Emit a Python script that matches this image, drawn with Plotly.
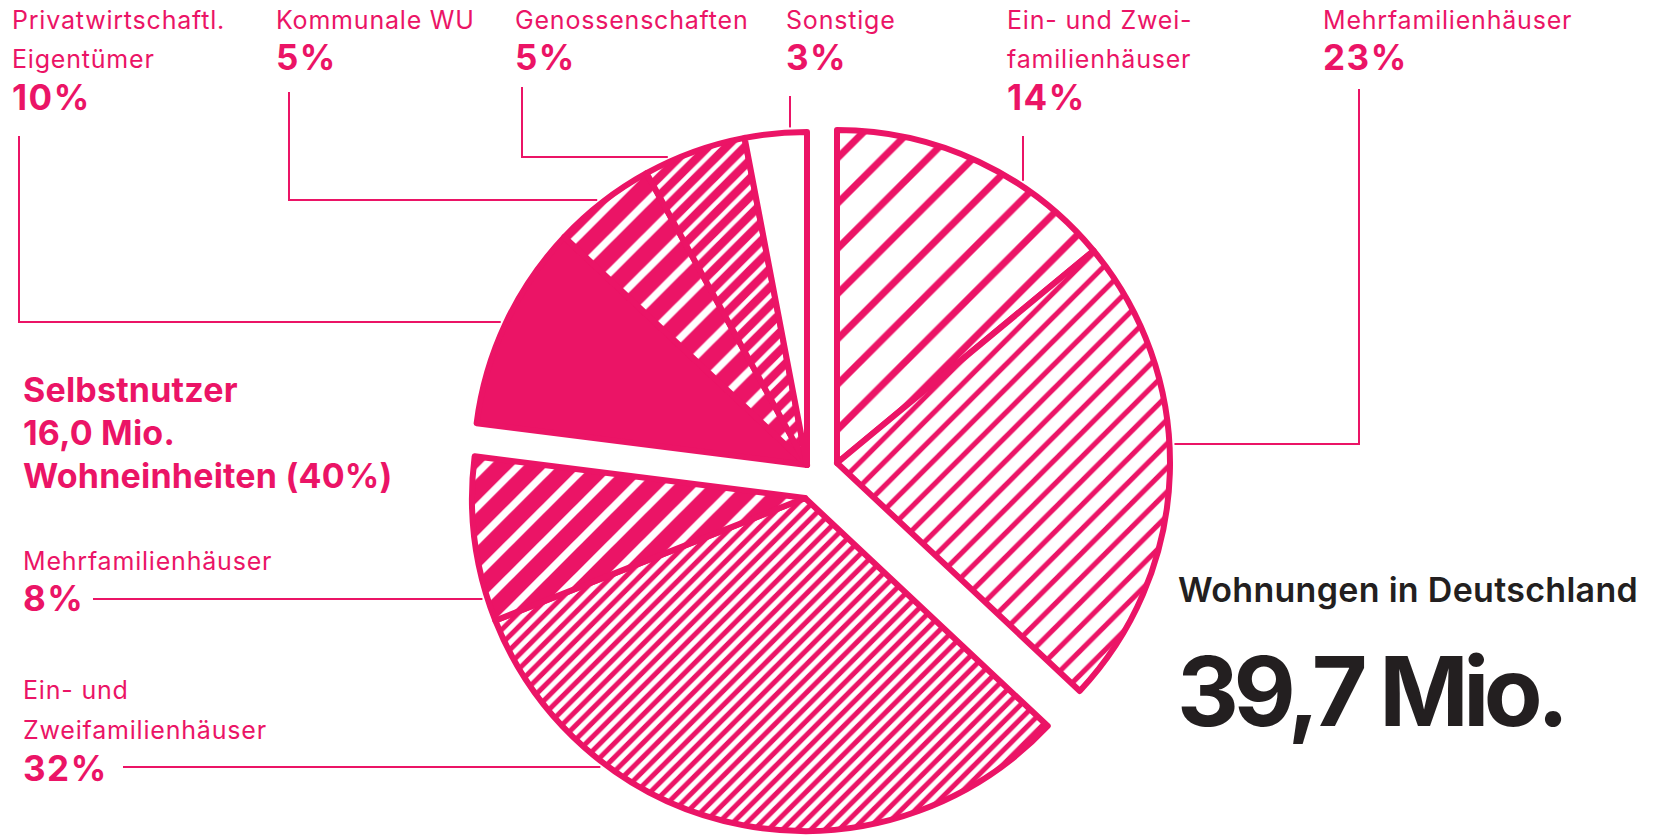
import math
import plotly.graph_objects as go

W, H = 1661, 836
MAGENTA = "#EB1466"
DARK = "#231F20"
WHITE = "#FFFFFF"
CLEAR = "rgba(0,0,0,0)"
FONT = "Inter"

# ---------------- data ----------------
labels = ["Ein- und Zweifamilienhäuser (vermietet)", "Mehrfamilienhäuser (vermietet)",
          "Ein- und Zweifamilienhäuser (Selbstnutzer)", "Mehrfamilienhäuser (Selbstnutzer)",
          "Privatwirtschaftl. Eigentümer", "Kommunale WU", "Genossenschaften", "Sonstige"]
values = [14, 23, 32, 8, 10, 5, 5, 3]
groups = ["right", "right", "bottom", "bottom", "topleft", "topleft", "topleft", "topleft"]
total_text = "39,7 Mio."
total_title = "Wohnungen in Deutschland"
owner_text = ["Selbstnutzer", "16,0 Mio.", "Wohneinheiten (40%)"]

# ---------------- styles ----------------
pat_shape = ["/", "/", "/", "/", "", "/", "/", ""]
pat_fg = [MAGENTA, MAGENTA, MAGENTA, WHITE, MAGENTA, WHITE, WHITE, WHITE]
pat_bg = [WHITE, WHITE, WHITE, MAGENTA, MAGENTA, MAGENTA, MAGENTA, WHITE]
pat_size = [32, 17, 10, 24, 8, 24, 13, 8]
pat_solid = [0.22, 0.3, 0.5, 0.3, 0.3, 0.3, 0.35, 0.3]

R = 333  # pie radius in px
centers = {"topleft": (807, 465), "right": (837, 463), "bottom": (805, 498)}


def dom(cx, cy, r):
    return dict(x=[(cx - r) / W, (cx + r) / W], y=[1 - (cy + r) / H, 1 - (cy - r) / H])


fig = go.Figure()
for g, (cx, cy) in centers.items():
    member = [gg == g for gg in groups]
    fig.add_trace(go.Pie(
        values=values, labels=labels, sort=False, direction="clockwise", rotation=0,
        textinfo="none", hoverinfo="label+value", showlegend=False,
        domain=dom(cx, cy, R),
        marker=dict(
            colors=[pat_bg[i] if m else CLEAR for i, m in enumerate(member)],
            line=dict(color=MAGENTA, width=[6 if m else 0 for m in member]),
            pattern=dict(
                shape=[pat_shape[i] if m else "" for i, m in enumerate(member)],
                fgcolor=[pat_fg[i] if m else CLEAR for i, m in enumerate(member)],
                bgcolor=[pat_bg[i] if m else CLEAR for i, m in enumerate(member)],
                size=pat_size, solidity=pat_solid, fillmode="replace"),
        ),
    ))

annotations = []


def txt(x, baseline, s, size, weight=400, color=MAGENTA, spacing=0.0):
    if spacing:
        s = f'<span style="letter-spacing:{spacing}px">{s}</span>'
    annotations.append(dict(
        x=x / W, y=1 - (baseline + 0.24 * size) / H, xref="paper", yref="paper",
        xanchor="left", yanchor="bottom", text=s, showarrow=False, borderpad=0,
        font=dict(family=FONT, size=size, color=color, weight=weight)))


def reg(x, b, s):
    txt(x, b, s, 25, 400, MAGENTA, 0.8)


def big(x, b, s):
    txt(x, b, s, 35, 700, MAGENTA, 1.5)


def pct(v):
    return f"{v}%"


# top labels
reg(11, 30, "Privatwirtschaftl."); reg(11, 69, "Eigentümer"); big(11, 111, pct(values[4]))
reg(275, 30, "Kommunale WU"); big(275, 71, pct(values[5]))
reg(514, 30, "Genossenschaften"); big(514, 71, pct(values[6]))
reg(785, 30, "Sonstige"); big(785, 71, pct(values[7]))
reg(1006, 30, "Ein- und Zwei-"); reg(1006, 69, "familienhäuser"); big(1006, 111, pct(values[0]))
reg(1322, 30, "Mehrfamilienhäuser"); big(1322, 71, pct(values[1]))
# left labels
for i, s in enumerate(owner_text):
    txt(22, 403 + 43 * i, s, 34, 700, MAGENTA, 0.2)
reg(22, 571, "Mehrfamilienhäuser"); big(22, 612, pct(values[3]))
reg(22, 700, "Ein- und"); reg(22, 740, "Zweifamilienhäuser"); big(22, 782, pct(values[2]))
# total
txt(1177, 603, total_title, 34, 600, DARK, 0.3)
txt(1176, 727, total_text, 96, 700, DARK, -5.5)

# ---------------- leader lines (end points derived from pie geometry) ----------------
RB = R + 5


def cx_at(g, y, side):
    cx, cy = centers[g]
    return cx + side * math.sqrt(RB ** 2 - (y - cy) ** 2)


def cy_at(g, x):
    cx, cy = centers[g]
    return cy - math.sqrt(RB ** 2 - (x - cx) ** 2)


leaders = [
    [(19, 136), (19, 322), (cx_at("topleft", 322, -1), 322)],
    [(289, 92), (289, 200), (cx_at("topleft", 200, -1), 200)],
    [(522, 87), (522, 157), (cx_at("topleft", 157, -1), 157)],
    [(790, 96), (790, cy_at("topleft", 790))],
    [(1023, 136), (1023, cy_at("right", 1023))],
    [(1359, 89), (1359, 444), (cx_at("right", 444, 1), 444)],
    [(93, 599), (cx_at("bottom", 599, -1), 599)],
    [(123, 767), (cx_at("bottom", 767, -1), 767)],
]
shapes = []
for pts in leaders:
    path = "M" + " L".join(f"{x / W:.5f},{1 - y / H:.5f}" for x, y in pts)
    shapes.append(dict(type="path", xref="paper", yref="paper", path=path,
                       line=dict(color=MAGENTA, width=2)))

fig.update_layout(width=W, height=H, margin=dict(l=0, r=0, t=0, b=0),
                  paper_bgcolor=WHITE, plot_bgcolor=WHITE,
                  annotations=annotations, shapes=shapes)
fig.write_html("out.html", config={"displayModeBar": False},
               post_script="document.body.style.margin='0px';")
